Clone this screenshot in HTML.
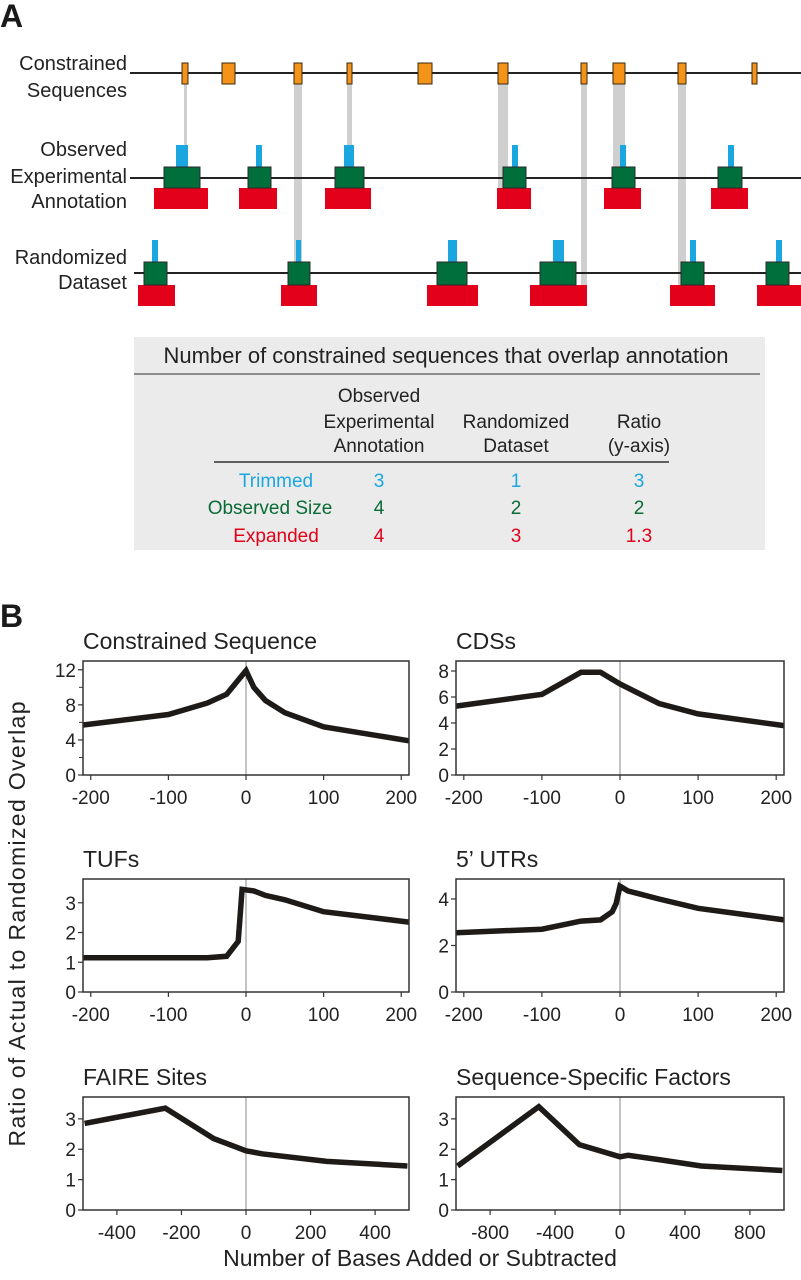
<!DOCTYPE html>
<html><head><meta charset="utf-8"><style>
html,body{margin:0;padding:0;background:#fff;}
svg{display:block;font-family:"Liberation Sans",sans-serif;}
</style></head><body>
<svg id="fig" width="801" height="1280" viewBox="0 0 801 1280" xmlns="http://www.w3.org/2000/svg">
<g id="panelA">
<text x="0" y="27" font-size="32" font-weight="bold" fill="#1a1a1a">A</text>
<g font-size="20" fill="#222" text-anchor="end">
<text x="127" y="70">Constrained</text>
<text x="127" y="97">Sequences</text>
<text x="127" y="156">Observed</text>
<text x="127" y="183">Experimental</text>
<text x="127" y="208">Annotation</text>
<text x="127" y="264">Randomized</text>
<text x="127" y="289">Dataset</text>
</g>
<g id="tracks"></g>
<g>
<rect x="134" y="337" width="631" height="213" fill="#ebebeb"/>
<text x="446" y="363" font-size="22" text-anchor="middle" fill="#222">Number of constrained sequences that overlap annotation</text>
<line x1="134" y1="374" x2="760" y2="374" stroke="#555" stroke-width="1.2"/>
<g font-size="19" fill="#222" text-anchor="middle">
<text x="379" y="402">Observed</text>
<text x="379" y="428">Experimental</text>
<text x="379" y="452">Annotation</text>
<text x="516" y="428">Randomized</text>
<text x="516" y="452">Dataset</text>
<text x="639" y="428">Ratio</text>
<text x="639" y="452">(y-axis)</text>
</g>
<line x1="214" y1="462" x2="669" y2="462" stroke="#333" stroke-width="1.5"/>
<g font-size="19" text-anchor="middle">
<g fill="#1aa7e0"><text x="276" y="487">Trimmed</text><text x="379" y="487">3</text><text x="516" y="487">1</text><text x="639" y="487">3</text></g>
<g fill="#0a6b36"><text x="270" y="514">Observed Size</text><text x="379" y="514">4</text><text x="516" y="514">2</text><text x="639" y="514">2</text></g>
<g fill="#e2001a"><text x="276" y="542">Expanded</text><text x="379" y="542">4</text><text x="516" y="542">3</text><text x="639" y="542">1.3</text></g>
</g>
</g>
</g>
<g id="panelB">
<text x="0" y="627" font-size="32" font-weight="bold" fill="#1a1a1a">B</text>
<text transform="translate(25,924) rotate(-90)" font-size="23" text-anchor="middle" fill="#222" textLength="445">Ratio of Actual to Randomized Overlap</text>
<text x="420" y="1266" font-size="23" text-anchor="middle" fill="#222">Number of Bases Added or Subtracted</text>
<g id="charts"></g>
</g>
</svg>
<script>
// ---- Panel A data ----
const constrainedStarts = [182,222,294,347,418,498,581,613,678,752];
const constrainedEnds   = [188,235,302,352,432,508,587,625,686,757];
const obsCyan  = [[176,188],[256,262],[344,354],[512,518],[620,626],[728,734]];
const obsGreen = [[164,200],[248,271],[335,364],[503,526],[612,635],[718,742]];
const obsRed   = [[154,208],[239,277],[325,371],[497,531],[604,641],[711,748]];
const rndCyan  = [[152,158],[296,301],[448,457],[553,564],[690,696],[776,782]];
const rndGreen = [[144,167],[288,310],[437,467],[540,576],[681,704],[766,789]];
const rndRed   = [[138,175],[281,317],[427,478],[530,587],[670,715],[757,801]];
const connX0 = [184,294,347,498,581,613,678];
const connX1 = [187,302,352,508,587,625,686];
const connEnd = [146,262,146,188,285,188,285];

// ---- Panel B chart data ----
const csX = [-210,-100,-50,-25,0,10,25,50,100,210];
const csY = [5.7,6.9,8.2,9.2,11.9,10.0,8.5,7.1,5.5,3.9];
const cdsX = [-210,-100,-50,-25,0,50,100,210];
const cdsY = [5.3,6.2,7.9,7.9,7.0,5.5,4.7,3.8];
const tufX = [-210,-50,-25,-10,-5,10,25,50,100,210];
const tufY = [1.15,1.15,1.2,1.7,3.45,3.4,3.25,3.1,2.7,2.35];
const utrX = [-210,-100,-50,-25,-10,-5,0,10,50,100,210];
const utrY = [2.55,2.7,3.05,3.1,3.45,3.8,4.55,4.35,4.0,3.6,3.1];
const faireX = [-500,-250,-100,-50,0,50,250,500];
const faireY = [2.85,3.35,2.35,2.15,1.95,1.85,1.6,1.45];
const ssfX = [-1000,-500,-250,0,50,250,500,1000];
const ssfY = [1.45,3.4,2.15,1.75,1.8,1.65,1.45,1.3];
const ticks200 = [-200,-100,0,100,200];
const ticks400 = [-400,-200,0,200,400];
const ticks800 = [-800,-400,0,400,800];
const yticksCS = [0,4,8,12];
const yticksCDS = [0,2,4,6,8];
const yticks3 = [0,1,2,3];
const yticksUTR = [0,2,4];
const titles = ["Constrained Sequence","CDSs","TUFs","5\u2019 UTRs","FAIRE Sites","Sequence-Specific Factors"];

const NS = "http://www.w3.org/2000/svg";
function mk(tag, attrs, parent){const e=document.createElementNS(NS,tag);for(const k in attrs)e.setAttribute(k,attrs[k]);parent.appendChild(e);return e;}

// tracks
const tr = document.getElementById('tracks');
for(let i=0;i<connX0.length;i++){
  const r=mk('rect',{x:connX0[i],y:84,width:connX1[i]-connX0[i],height:connEnd[i]-84,fill:'#cfcfcf'},tr);
  
  
}
const lines=[[130,73],[130,178],[134,273]];
const lineNames=['constrained-track-line','observed-track-line','randomized-track-line'];
lines.forEach((l,i)=>{const e=mk('line',{x1:l[0],y1:l[1],x2:801,y2:l[1],stroke:'#222','stroke-width':2},tr);
  
  });
for(let i=0;i<constrainedStarts.length;i++){
  const r=mk('rect',{x:constrainedStarts[i],y:63,width:constrainedEnds[i]-constrainedStarts[i],height:21,fill:'#f39419',stroke:'#3a2a10','stroke-width':1},tr);
  
  
}
function boxes(arr,y0,y1,fill,name,stroke){
  arr.forEach(b=>{const r=mk('rect',{x:b[0],y:y0,width:b[1]-b[0],height:y1-y0,fill:fill},tr);
    if(stroke){r.setAttribute('stroke',stroke);r.setAttribute('stroke-width','1');}
    
    });
}
boxes(obsRed,188,209,'#e2001a','observed-expanded');
boxes(obsCyan,145,167,'#1aa7e0','observed-trimmed');
boxes(obsGreen,167,188,'#006f3c','observed-size','#2a2a2a');
boxes(rndRed,285,306,'#e2001a','randomized-expanded');
boxes(rndCyan,240,262,'#1aa7e0','randomized-trimmed');
boxes(rndGreen,262,285,'#006f3c','randomized-size','#2a2a2a');

// charts
const ch = document.getElementById('charts');
const colL=[83,409], colR=[456,784];
const rowT=[661,879,1097], rowB=[775,992,1210];
const specs=[
 {xs:csX,ys:csY,xd:[-210,210],ymax:13.0,xt:ticks200,yt:yticksCS,minor:2,col:colL,row:0,name:'constrained-sequence'},
 {xs:cdsX,ys:cdsY,xd:[-210,210],ymax:8.77,xt:ticks200,yt:yticksCDS,minor:0,col:colR,row:0,name:'cdss'},
 {xs:tufX,ys:tufY,xd:[-210,210],ymax:3.8,xt:ticks200,yt:yticks3,minor:0,col:colL,row:1,name:'tufs'},
 {xs:utrX,ys:utrY,xd:[-210,210],ymax:4.86,xt:ticks200,yt:yticksUTR,minor:0,col:colR,row:1,name:'5-utrs'},
 {xs:faireX,ys:faireY,xd:[-505,505],ymax:3.72,xt:ticks400,yt:yticks3,minor:0,col:colL,row:2,name:'faire-sites'},
 {xs:ssfX,ys:ssfY,xd:[-1010,1010],ymax:3.72,xt:ticks800,yt:yticks3,minor:0,col:colR,row:2,name:'sequence-specific-factors'}
];
specs.forEach((s,i)=>{
  const g=mk('g',{},ch);
  
  
  const L=s.col[0],R=s.col[1],T=rowT[s.row],B=rowB[s.row];
  const xs=v=>L+(v-s.xd[0])/(s.xd[1]-s.xd[0])*(R-L);
  const ys=v=>B-v/s.ymax*(B-T);
  const t=mk('text',{x:L,y:T-12,'font-size':23,fill:'#222'},g);t.textContent=titles[i];
  
  
  const z=mk('line',{x1:xs(0),y1:T,x2:xs(0),y2:B,stroke:'#8a8a8a','stroke-width':1},g);
  
  
  s.xt.forEach(v=>{
    const tk=mk('line',{x1:xs(v),y1:B,x2:xs(v),y2:B+5,stroke:'#333','stroke-width':1.2},g);
    
    
    const lb=mk('text',{x:xs(v),y:B+29,'font-size':19,'text-anchor':'middle',fill:'#222'},g);lb.textContent=v;
    
    
  });
  s.yt.forEach(v=>{
    const tk=mk('line',{x1:L-5,y1:ys(v),x2:L,y2:ys(v),stroke:'#333','stroke-width':1.2},g);
    
    
    const lb=mk('text',{x:L-7,y:ys(v)+7,'font-size':19,'text-anchor':'end',fill:'#222'},g);lb.textContent=v;
    
    
    if(s.minor && v+s.minor<s.ymax){
      const mt=mk('line',{x1:L-4,y1:ys(v+s.minor),x2:L,y2:ys(v+s.minor),stroke:'#333','stroke-width':1},g);
      
      
    }
  });
  const pts=s.xs.map((x,k)=>xs(x).toFixed(1)+','+ys(s.ys[k]).toFixed(1)).join(' ');
  const pl=mk('polyline',{points:pts,fill:'none',stroke:'#1e1a17','stroke-width':5.5,'stroke-linejoin':'miter','stroke-miterlimit':3},g);
  
  
  const fr=mk('rect',{x:L,y:T,width:R-L,height:B-T,fill:'none',stroke:'#333','stroke-width':1.5},g);
  
  
});
</script>
</body></html>
